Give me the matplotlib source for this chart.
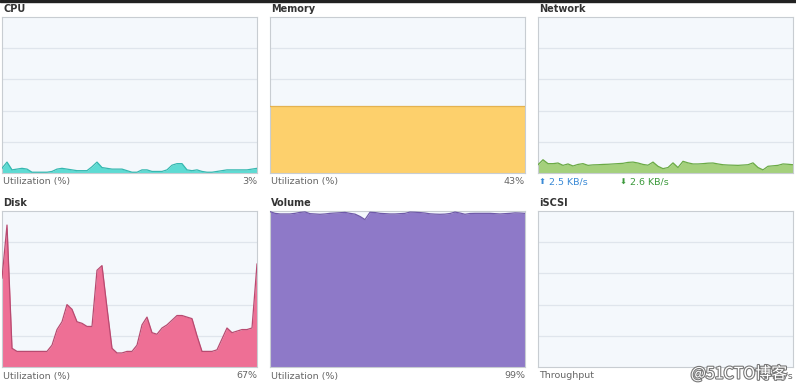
#!/usr/bin/env python3
"""Resource monitor dashboard: six small utilization panels."""
import numpy as np
import matplotlib
matplotlib.use("Agg")
import matplotlib.pyplot as plt
import matplotlib.patheffects as pe

# ── data (percent, evenly spaced samples) ───────────────────────────────
cpu = [3, 7, 2, 2.5, 3, 2.5, 0.5, 0.5, 0.5, 0.5, 1, 2.5, 3, 2.5, 2, 1.5,
       1.5, 1.5, 4, 7, 3.5, 3, 2.5, 2.5, 2.5, 1.5, 0.5, 0.5, 2, 2, 1, 1,
       1, 2, 5, 6, 6, 2, 1.5, 2, 1, 0.5, 0.5, 1, 1.5, 2, 2, 2, 2, 2, 2.5, 3]
memory = [43] * 52
network = [5.3, 8.5, 6, 6, 6.4, 4.9, 5.8, 4.5, 5.5, 6, 4.9, 5.2, 5.3, 5.5,
           5.6, 5.8, 6, 6.2, 6.8, 7, 6.4, 5.5, 5, 7, 4.3, 2.8, 3.5, 6.5, 3.5,
           7.5, 6.5, 5.8, 5.8, 6, 6.3, 6.4, 5.8, 5.3, 5.1, 5, 4.9, 5.1, 5.3,
           6.5, 3.5, 2, 4.3, 4.6, 4.9, 5.8, 5.6, 5.3]
disk = [57, 91, 12, 10, 10, 10, 10, 10, 10, 10, 14, 24, 29, 40, 37, 29, 28,
        26, 26, 62, 65, 38, 12, 9, 9, 10, 10, 14, 27, 32, 22, 21, 25, 27, 30,
        33, 33, 32, 31, 20, 10, 10, 10, 11, 18, 25, 22, 23, 24, 24, 25, 66]
volume = [99.6, 98.5, 98.1, 98.1, 98.1, 98.5, 99.1, 99.4, 98.3, 98.1, 97.9,
          98.1, 98.5, 98.7, 98.9, 99.1, 98.5, 98, 96.5, 94.5, 99.2, 99, 98.5,
          98.3, 98.1, 98.1, 98.3, 98.5, 99.3, 99.2, 99, 98.7, 98.2, 98, 97.9,
          98, 98.4, 99.3, 98.7, 97.9, 98.4, 98.5, 98.5, 98.5, 98.5, 98.3,
          98.1, 98.3, 98.5, 98.8, 98.7, 98.5]

titles = ["CPU", "Memory", "Network", "Disk", "Volume", "iSCSI"]
series = [cpu, memory, network, disk, volume, None]
footers = ["Utilization (%)", "Utilization (%)", None,
           "Utilization (%)", "Utilization (%)", "Throughput"]
readouts = ["3%", "43%", None, "67%", "99%", "0 KB/s"]
net_up, net_down = "2.5 KB/s", "2.6 KB/s"

FILL = ["#5ddbd3", "#fdd06c", "#a4d07c", "#ee6f95", "#8e79c8", None]
EDGE = ["#36b8b0", "#e4b250", "#6aaa45", "#b84a70", "#6f5aa8", None]
BG = "#f4f8fc"
GRID = "#dfe5ec"
BORDER = "#c8cdd2"
TITLE = "#333333"
LABEL = "#666666"

W, H = 796, 389
fig = plt.figure(figsize=(W / 100, H / 100), dpi=100, facecolor="white")

# dark strip along the very top edge of the screenshot
fig.add_artist(plt.Rectangle((0, 1 - 2 / H), 1, 2 / H, transform=fig.transFigure,
                             color="#222222", zorder=5))

cols = [(2, 257), (270, 525), (538, 793)]
rows = [(17, 173), (211, 367)]

for i, title in enumerate(titles):
    x0, x1 = cols[i % 3]
    y0, y1 = rows[i // 3]
    ax = fig.add_axes([x0 / W, 1 - y1 / H, (x1 - x0) / W, (y1 - y0) / H])
    ax.set_facecolor(BG)
    for s in ax.spines.values():
        s.set_edgecolor(BORDER)
        s.set_linewidth(0.8)
    ax.set_xticks([])
    ax.set_yticks([])
    ax.set_ylim(0, 100)
    for g in (20, 40, 60, 80):
        ax.axhline(g, color=GRID, lw=0.9, zorder=1)

    data = series[i]
    if data is not None:
        x = np.arange(len(data))
        ax.set_xlim(0, len(data) - 1)
        ax.fill_between(x, data, 0, color=FILL[i], lw=0, zorder=2)
        ax.plot(x, data, color=EDGE[i], lw=0.9, zorder=3)
    else:
        ax.set_xlim(0, 1)

    fig.text((x0 + 1) / W, 1 - (y0 - 8) / H, title, fontsize=7,
             fontweight="bold", color=TITLE, va="center", ha="left")

    fy = 1 - (y1 + 9) / H
    if footers[i] is not None:
        fig.text((x0 + 1) / W, fy, footers[i], fontsize=6.8, color=LABEL,
                 va="center", ha="left")
        fig.text(x1 / W, fy, readouts[i], fontsize=6.8, color=LABEL,
                 va="center", ha="right")
    else:
        fig.text((x0 + 1) / W, fy, "\u2b06", fontsize=6, color="#3a8ad6",
                 va="center", ha="left")
        fig.text((x0 + 11) / W, fy, net_up, fontsize=6.8, color="#3a8ad6",
                 va="center", ha="left")
        fig.text((x0 + 82) / W, fy, "\u2b07", fontsize=6, color="#3c9a3c",
                 va="center", ha="left")
        fig.text((x0 + 92) / W, fy, net_down, fontsize=6.8, color="#3c9a3c",
                 va="center", ha="left")

# watermark over the iSCSI footer
fig.text(787 / W, 1 - 374 / H, "@51CTO博客", fontsize=11.5, color="white",
         family=["Noto Sans CJK SC", "DejaVu Sans"], va="center", ha="right",
         path_effects=[pe.withStroke(linewidth=1.6, foreground="#777777")],
         zorder=10)

fig.savefig("out.png", dpi=100, facecolor="white")
